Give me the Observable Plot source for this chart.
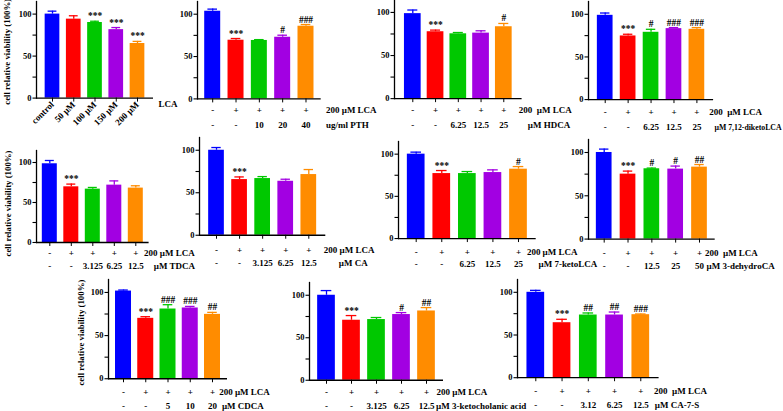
<!DOCTYPE html>
<html><head><meta charset="utf-8">
<script src="https://cdn.jsdelivr.net/npm/d3@7"></script>
<script src="https://cdn.jsdelivr.net/npm/@observablehq/plot@0.6"></script>
<style>
html,body{margin:0;padding:0;background:#fff;}
#root{position:relative;width:783px;height:411px;overflow:hidden;background:#fff;}
.panel{position:absolute;}
.panel svg{max-width:none !important;}
</style></head><body><div id="root"></div>
<script>
// ---------- shared ----------
const barColors = ["#0000ff", "#ff0000", "#00c800", "#a200e2", "#ff8c00"];
const yTitle = "cell relative viability (100%)";
const lcaRow = ["-", "+", "+", "+", "+"];
const yMajor = [0, 50, 100];
const yMinor = [25, 75];

// ---------- panel 1: LCA dose ----------
const lcaGroups = ["control", "50 µM", "100 µM", "150 µM", "200 µM"];
const lcaMeans = [100, 94, 90, 81.5, 65];
const lcaSd = [3.5, 4, 1.5, 2.5, 2.5];
const lcaSig = ["", "", "***", "***", "***"];

// ---------- panel 2: PTH ----------
const pthDoses = ["-", "-", "10", "20", "40"];
const pthMeans = [103.5, 69.3, 69, 72.8, 85.8];
const pthSd = [2.5, 2, 1, 2.4, 2];
const pthSig = ["", "***", "", "#", "###"];

// ---------- panel 3: HDCA ----------
const hdcaDoses = ["-", "-", "6.25", "12.5", "25"];
const hdcaMeans = [98.6, 77.6, 75.2, 76, 83.4];
const hdcaSd = [4.2, 1.9, 1.5, 2.7, 3.8];
const hdcaSig = ["", "***", "", "", "#"];

// ---------- panel 4: 7,12-diketoLCA ----------
const diketoDoses = ["-", "-", "6.25", "12.5", "25"];
const diketoMeans = [98.8, 74.6, 78.9, 83.2, 82.4];
const diketoSd = [2.7, 2, 3.5, 1.2, 2];
const diketoSig = ["", "***", "#", "###", "###"];

// ---------- panel 5: TDCA ----------
const tdcaDoses = ["-", "-", "3.125", "6.25", "12.5"];
const tdcaMeans = [98.4, 69.6, 66.7, 71.7, 68];
const tdcaSd = [4.1, 3.4, 2.1, 5.3, 2.9];
const tdcaSig = ["", "***", "", "", ""];

// ---------- panel 6: CA ----------
const caDoses = ["-", "-", "3.125", "6.25", "12.5"];
const caMeans = [100, 65.5, 66.7, 63.5, 71.4];
const caSd = [3.2, 3.1, 2.3, 2.4, 5.9];
const caSig = ["", "***", "", "", ""];

// ---------- panel 7: 7-ketoLCA ----------
const ketolcaDoses = ["-", "-", "6.25", "12.5", "25"];
const ketolcaMeans = [100, 77, 77, 78.2, 82.2];
const ketolcaSd = [2.4, 3.6, 2.4, 3.2, 3.1];
const ketolcaSig = ["", "***", "", "", "#"];

// ---------- panel 8: 3-dehydroCA ----------
const dehydroDoses = ["-", "-", "12.5", "25", "50"];
const dehydroMeans = [100, 75, 81.2, 80.8, 83.1];
const dehydroSd = [3.9, 3.5, 0.8, 3.5, 3];
const dehydroSig = ["", "***", "#", "#", "##"];

// ---------- panel 9: CDCA ----------
const cdcaDoses = ["-", "-", "5", "10", "20"];
const cdcaMeans = [101.6, 70, 80.8, 82, 74.6];
const cdcaSd = [1.2, 1.9, 5, 1.8, 2.3];
const cdcaSig = ["", "***", "###", "###", "##"];

// ---------- panel 10: 3-ketocholanic acid ----------
const ketocholDoses = ["-", "-", "3.125", "6.25", "12.5"];
const ketocholMeans = [100, 70.6, 71.4, 77.3, 81.5];
const ketocholSd = [5.5, 5.5, 2.4, 2.3, 4];
const ketocholSig = ["", "***", "", "#", "##"];

// ---------- panel 11: CA-7-S ----------
const ca7sDoses = ["-", "-", "3.12", "6.25", "12.5"];
const ca7sMeans = [100, 64.4, 73.4, 73.4, 73.8];
const ca7sSd = [2.3, 4, 2.4, 3.5, 0.8];
const ca7sSig = ["", "***", "##", "##", "###"];

const panels = [
  {groups: lcaGroups, means: lcaMeans, sd: lcaSd, sig: lcaSig, treatment: "LCA", rotated: true, title: true},
  {doses: pthDoses, means: pthMeans, sd: pthSd, sig: pthSig, lca: "200 µM LCA", treatment: "ug/ml PTH"},
  {doses: hdcaDoses, means: hdcaMeans, sd: hdcaSd, sig: hdcaSig, lca: "200\u00a0 µM LCA", treatment: "µM HDCA"},
  {doses: diketoDoses, means: diketoMeans, sd: diketoSd, sig: diketoSig, lca: "200\u00a0 µM LCA", treatment: "µM 7,12-diketoLCA"},
  {doses: tdcaDoses, means: tdcaMeans, sd: tdcaSd, sig: tdcaSig, lca: "200 µM LCA", treatment: "µM TDCA", title: true},
  {doses: caDoses, means: caMeans, sd: caSd, sig: caSig, lca: "200 µM LCA", treatment: "µM CA"},
  {doses: ketolcaDoses, means: ketolcaMeans, sd: ketolcaSd, sig: ketolcaSig, lca: "200 µM LCA", treatment: "µM 7-ketoLCA"},
  {doses: dehydroDoses, means: dehydroMeans, sd: dehydroSd, sig: dehydroSig, lca: "200\u00a0 µM LCA", treatment: "µM 3-dehydroCA"},
  {doses: cdcaDoses, means: cdcaMeans, sd: cdcaSd, sig: cdcaSig, lca: "200 µM LCA", treatment: "µM CDCA", title: true},
  {doses: ketocholDoses, means: ketocholMeans, sd: ketocholSd, sig: ketocholSig, lca: "200 µM LCA", treatment: "µM 3-ketocholanic acid"},
  {doses: ca7sDoses, means: ca7sMeans, sd: ca7sSd, sig: ca7sSig, lca: "200\u00a0 µM LCA", treatment: "µM CA-7-S"}
];

// ---------- layout (pixel geometry only) ----------
const layouts = [
  {L: 36, c1: 52, c5: 137, bw: 14.7, base: 98, y100: 14, dx2: 21, r2: 9, tdx: -29.5, tdy: 2},
  {L: 196.5, c1: 211.7, c5: 305, bw: 16, base: 98.7, y100: 14, r1: 14, r2: 29, dx1: 20, dx2: 20},
  {L: 394, c1: 412.3, c5: 503.3, bw: 16.7, base: 97.7, y100: 11.5, r1: 14.5, r2: 29, dx1: 15, dx2: 24},
  {L: 588.3, c1: 605, c5: 696.7, bw: 15.7, base: 99.3, y100: 14, r1: 15.5, r2: 30.5, dx1: 12.3, dx2: 17.5, fs2: 7.8},
  {L: 35.7, c1: 49, c5: 135, bw: 15, base: 241.7, y100: 161.7, r1: 14, r2: 27, dx1: 8.3, dx2: 18, tdx: -28.7, tdy: 7},
  {L: 199, c1: 216, c5: 308.3, bw: 15.7, base: 235, y100: 150, r1: 17.5, r2: 31, dx1: 15, dx2: 30},
  {L: 398.3, c1: 416, c5: 518.3, bw: 17.7, base: 237.7, y100: 153.3, r1: 16.5, r2: 28.5, dx1: 8.4, dx2: 20},
  {L: 588.3, c1: 604, c5: 699.3, bw: 15.7, base: 238.3, y100: 151.7, r1: 16.5, r2: 30, dx1: 5.5, dx2: 7},
  {L: 108.3, c1: 123.3, c5: 212.3, bw: 16, base: 378, y100: 291.7, r1: 16, r2: 30, dx1: 6.7, dx2: 9.4, tdx: -27.6, tdy: 3.5},
  {L: 309, c1: 326, c5: 426, bw: 17.7, base: 380, y100: 295, r1: 15, r2: 28.5, dx1: 10, dx2: 9.5},
  {L: 516.7, c1: 535, c5: 640, bw: 17.7, base: 377.7, y100: 292.3, r1: 16.5, r2: 30.5, dx1: 13.3, dx2: 14}
];

const FONT = "'Liberation Serif','Times New Roman',serif";
const root = document.getElementById("root");

function buildPanel(p, lay) {
  const n = p.means.length;
  const groups = p.groups || p.doses.map((d, i) => `${lcaRow[i]}/${d}/${i}`);
  const data = groups.map((g, i) => ({
    g, mean: p.means[i], top: p.means[i] + p.sd[i], sig: p.sig[i],
    color: barColors[i], r1: p.doses ? lcaRow[i] : "", r2: p.doses ? p.doses[i] : ""
  }));
  const step = (lay.c5 - lay.c1) / (n - 1);
  const pi = 1 - lay.bw / step;
  const po = (lay.c1 - lay.L) / step - (1 - pi) / 2;
  const frameW = step * (n - pi + 2 * po);
  const ymax = 115;
  const ppu = (lay.base - lay.y100) / 100;
  const frameH = ymax * ppu;
  const frameTop = lay.base - frameH;
  const ML = 42, MT = 12, MB = 44, MR = 130;
  const last = groups[n - 1];
  const capInset = lay.bw * 0.2;

  const marks = [
    Plot.barY(data, {x: "g", y: "mean", fill: "color"}),
    Plot.ruleX(data, {x: "g", y1: "mean", y2: "top", stroke: "color", strokeWidth: 1.3}),
    Plot.tickY(data, {x: "g", y: "top", stroke: "color", strokeWidth: 1.3, insetLeft: capInset, insetRight: capInset}),
    Plot.text(data.filter(d => d.sig), {x: "g", y: "top", text: "sig", lineAnchor: "bottom", dy: -2, fontSize: 9.5}),
    Plot.axisY({ticks: yMajor, tickSize: 3.5, tickPadding: 1.5, fontSize: 8.5, label: null, strokeWidth: 1.1}),
    Plot.axisY({ticks: yMinor, tickSize: 3.5, tickFormat: () => "", label: null, strokeWidth: 1.1}),
    Plot.frame({anchor: "left", strokeWidth: 1.3}),
    Plot.ruleY([0], {strokeWidth: 1.3})
  ];
  if (p.rotated) {
    marks.push(Plot.axisX({tickSize: 4, tickRotate: -45, tickPadding: 1, fontSize: 9, label: null}));
    marks.push(Plot.text([p.treatment], {x: [last], text: d => d, frameAnchor: "bottom", dy: lay.r2, dx: lay.dx2, textAnchor: "start", fontSize: 9}));
  } else {
    marks.push(Plot.axisX({tickSize: 4, tickFormat: () => "", label: null}));
    marks.push(Plot.text(data, {x: "g", text: "r1", frameAnchor: "bottom", dy: lay.r1, fontSize: 9}));
    marks.push(Plot.text(data, {x: "g", text: "r2", frameAnchor: "bottom", dy: lay.r2, fontSize: 9}));
    marks.push(Plot.text([p.lca], {x: [last], text: d => d, frameAnchor: "bottom", dy: lay.r1, dx: lay.dx1, textAnchor: "start", fontSize: 9}));
    marks.push(Plot.text([p.treatment], {x: [last], text: d => d, frameAnchor: "bottom", dy: lay.r2, dx: lay.dx2, textAnchor: "start", fontSize: lay.fs2 || 9}));
  }
  if (p.title) {
    marks.push(Plot.text([yTitle], {text: d => d, frameAnchor: "left", textAnchor: "middle", lineAnchor: "middle", dx: lay.tdx, dy: lay.tdy, rotate: -90, fontSize: 8.8}));
  }

  const W = ML + frameW + MR, H = MT + frameH + MB;
  const chart = Plot.plot({
    width: W,
    height: H,
    marginLeft: ML, marginRight: MR, marginTop: MT, marginBottom: MB,
    x: {domain: groups, paddingInner: pi, paddingOuter: po, align: 0.5, round: false},
    y: {domain: [0, ymax]},
    style: {fontFamily: FONT, fontWeight: "bold", fontSize: "9px", background: "none", overflow: "visible", color: "#000", maxWidth: "none"},
    marks
  });
  const div = document.createElement("div");
  div.className = "panel";
  div.style.left = (lay.L - ML) + "px";
  div.style.top = (frameTop - MT) + "px";
  div.style.width = W + "px";
  div.style.height = H + "px";
  div.appendChild(chart);
  root.appendChild(div);
}

panels.forEach((p, i) => buildPanel(p, layouts[i]));
</script>
</body></html>
